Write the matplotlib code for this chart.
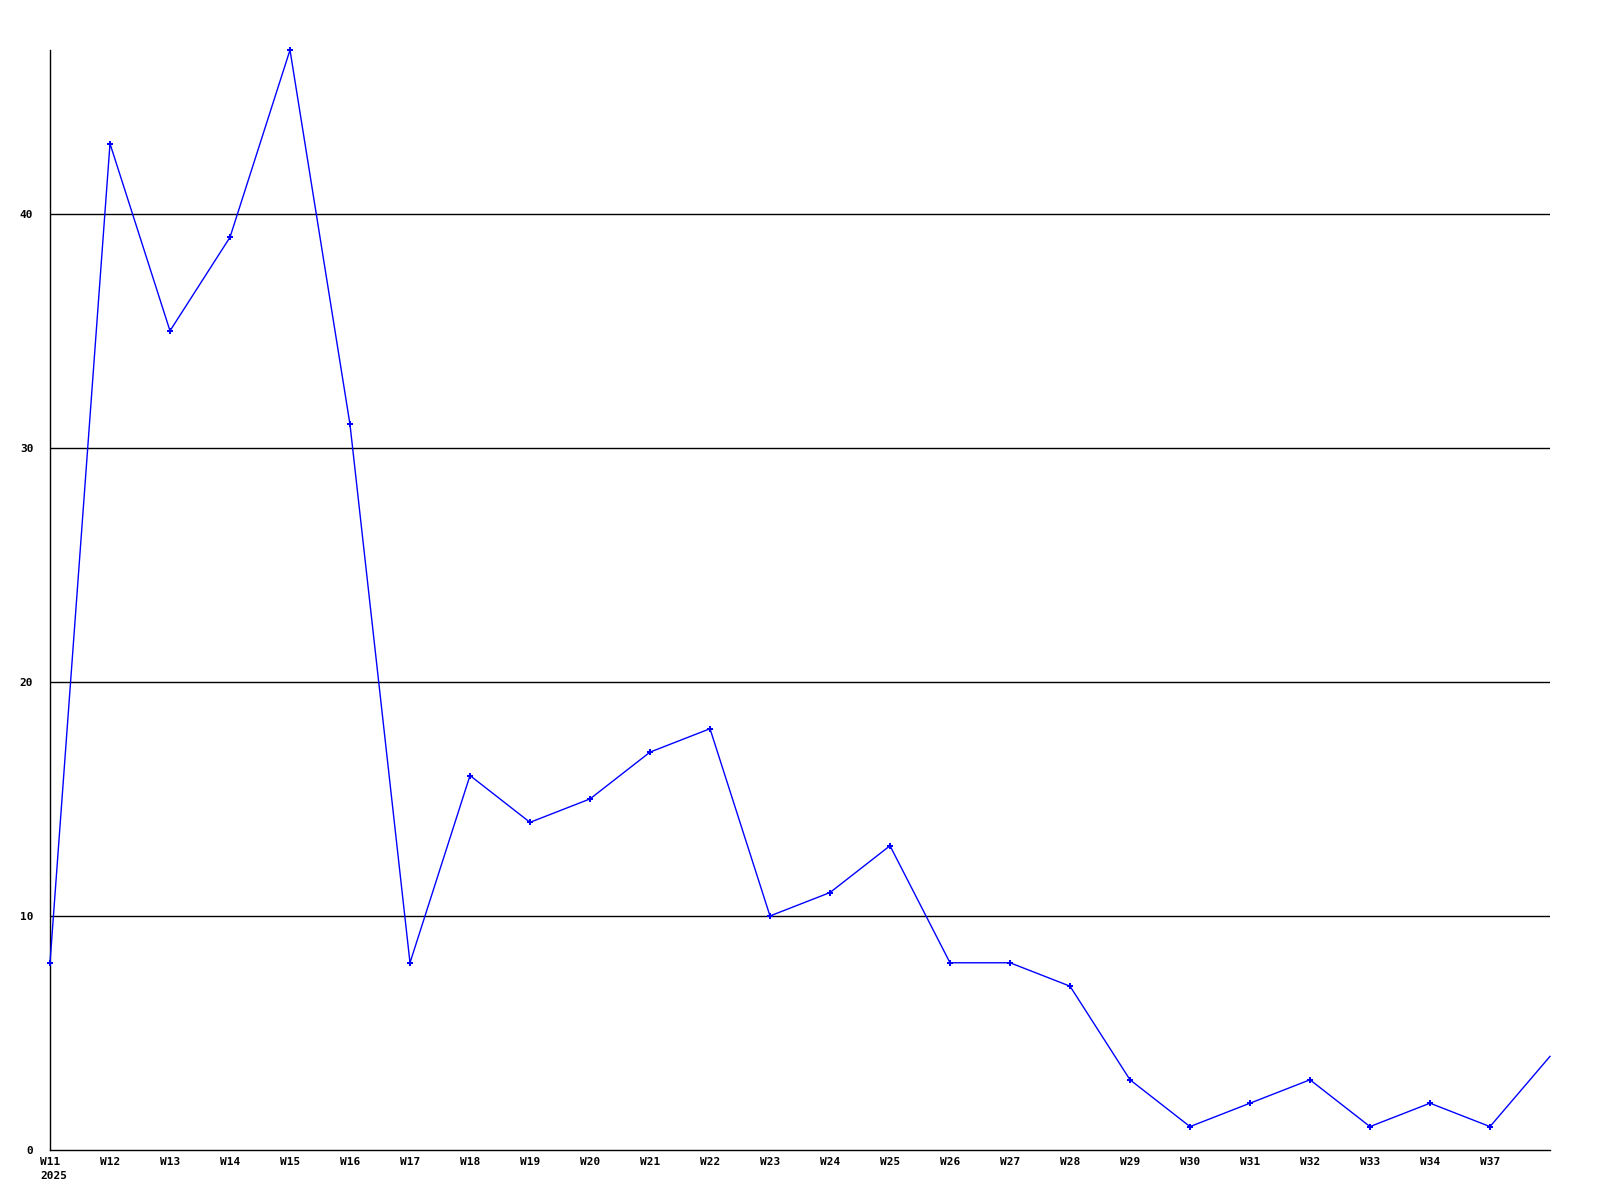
import matplotlib
matplotlib.use("Agg")
import matplotlib.pyplot as plt
from matplotlib.transforms import offset_copy

weeks = ["W11", "W12", "W13", "W14", "W15", "W16", "W17", "W18", "W19", "W20",
         "W21", "W22", "W23", "W24", "W25", "W26", "W27", "W28", "W29", "W30",
         "W31", "W32", "W33", "W34", "W37", ""]
values = [8, 43, 35, 39, 47, 31, 8, 16, 14, 15,
          17, 18, 10, 11, 13, 8, 8, 7, 3, 1,
          2, 3, 1, 2, 1, 4]
yticks = [0, 10, 20, 30, 40]
year_label = "2025"

fig = plt.figure(figsize=(16, 12), dpi=100)
ax = fig.add_axes([50/1600, 50/1200, 1500/1600, 1100/1200])

x = list(range(len(values)))
for t in yticks[1:]:
    ax.axhline(t, color="black", lw=1.0, zorder=1)
ax.plot(x, values, color="#0000ff", lw=1.0, marker="P", markersize=4.5,
        markeredgewidth=0, zorder=3, clip_on=False,
        markevery=list(range(len(values) - 1)))

ax.set_xlim(0, len(values) - 1)
ax.set_ylim(0, 47)
ax.set_yticks(yticks)
ax.set_yticklabels([str(t) for t in yticks])
ax.set_xticks(x)
ax.set_xticklabels(weeks, va="top", ha="center")

for spine in ["top", "right"]:
    ax.spines[spine].set_visible(False)
for spine in ["left", "bottom"]:
    ax.spines[spine].set_linewidth(1.0)
    ax.spines[spine].set_color("black")

ax.tick_params(axis="both", length=0, labelsize=8)
for lab in ax.get_xticklabels() + ax.get_yticklabels():
    lab.set_family("DejaVu Sans Mono")
    lab.set_fontweight("bold")
ax.tick_params(axis="x", pad=5)
ax.tick_params(axis="y", pad=12)

trans = offset_copy(ax.get_xaxis_transform(), fig=fig, x=-10, y=-21, units="dots")
ax.text(0, 0, year_label, transform=trans, ha="left", va="top", fontsize=8,
        family="DejaVu Sans Mono", fontweight="bold")

fig.savefig("out.png", dpi=100, facecolor="white")
